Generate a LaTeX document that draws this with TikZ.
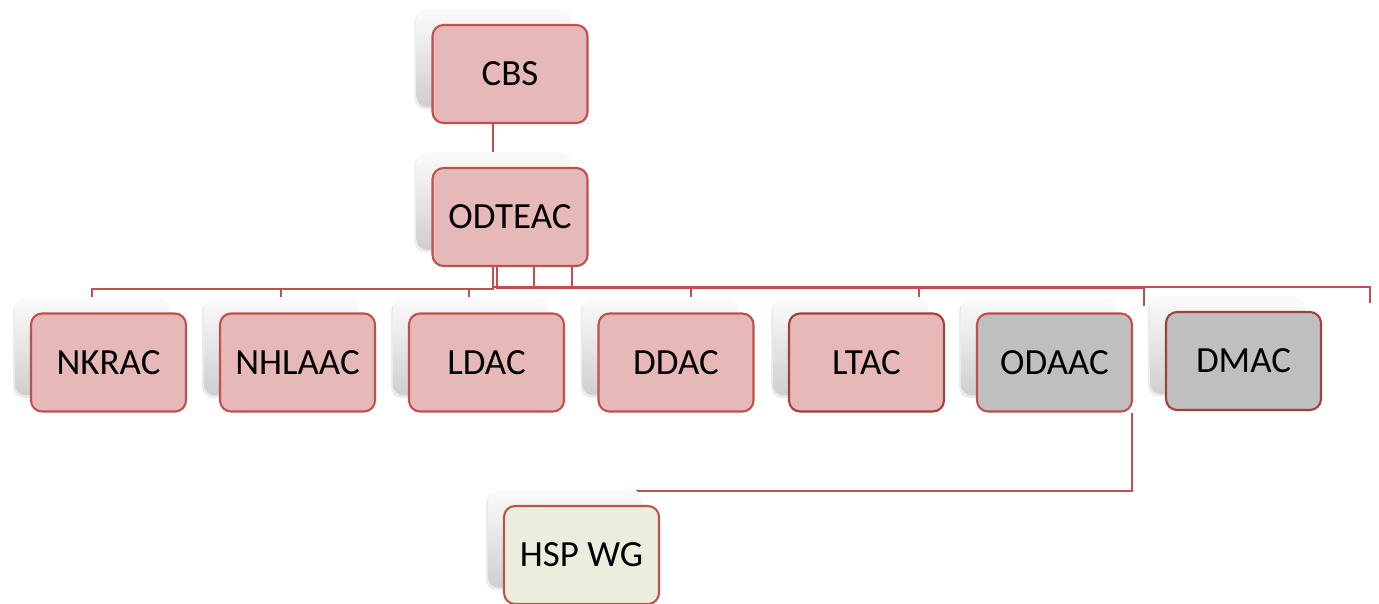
\documentclass[tikz,border=0pt]{standalone}
\usepackage{fontspec}
\setmainfont{Carlito}
\usetikzlibrary{shadows,backgrounds}

\definecolor{acred}{HTML}{C0504D}
\definecolor{acdark}{HTML}{A0403D}
\definecolor{unitfill}{HTML}{E6B9B8}
\definecolor{unitgrey}{HTML}{BFBFBF}
\definecolor{wgfill}{HTML}{EAEFDD}

\tikzset{
  unit/.style={draw=acred, fill=unitfill, line width=1.2pt, rounded corners=0.22cm,
    minimum width=3.1cm, minimum height=1.96cm, inner sep=0pt,
    font=\fontsize{21}{25}\selectfont,
    general shadow={shadow xshift=-0.36cm, shadow yshift=0.27cm, draw=none, fill=black, opacity=0.08},
    general shadow={shadow xshift=-0.32cm, shadow yshift=0.32cm, draw=none,
      top color=gray!3, middle color=gray!7, bottom color=gray!38}},
  greyunit/.style={unit, fill=unitgrey},
  wgunit/.style={unit, fill=wgfill},
  link/.style={draw=acred, line width=1.2pt},
}

\begin{document}
\begin{tikzpicture}[x=0.02cm, y=-0.02cm]
\useasboundingbox (0,0) rectangle (1379,604);

\node[unit] (cbs) at (510,74) {CBS};
\node[unit] (odteac) at (510,217) {ODTEAC};

\node[unit] (nkrac) at (108.5,362.5) {NKRAC};
\node[unit] (nhlaac) at (297.5,362.5) {NHLAAC};
\node[unit] (ldac) at (486.5,362.5) {LDAC};
\node[unit] (ddac) at (676,362.5) {DDAC};
\node[unit, draw=acdark] (ltac) at (866.5,362.5) {LTAC};
\node[greyunit] (odaac) at (1054.5,362.5) {ODAAC};
\node[greyunit, draw=acdark] (dmac) at (1243.5,361) {DMAC};

\node[wgunit] (hsp) at (581.5,555) {HSP WG};

% where the lines meet the boxes behind
\coordinate (odteac-in) at (493,152);
\coordinate (nkrac-in) at (92,297);
\coordinate (nhlaac-in) at (281,297);
\coordinate (ldac-in) at (469,297);
\coordinate (ddac-in) at (691,297);
\coordinate (ltac-in) at (919,297);
\coordinate (odaac-in) at (1144,306);
\coordinate (dmac-in) at (1370,303);
\coordinate (hsp-in) at (636,491);

\begin{scope}[on background layer]
\draw[link] (cbs.south -| odteac-in) -- (odteac-in);

\draw[link] ([xshift=-0.34cm]odteac.south) |- ([yshift=0.16cm]nkrac-in) -- (nkrac-in);
\draw[link] ([xshift=-0.34cm]odteac.south) |- ([yshift=0.16cm]nhlaac-in) -- (nhlaac-in);
\draw[link] ([xshift=-0.34cm]odteac.south) |- ([yshift=0.16cm]ldac-in) -- (ldac-in);
\draw[link] ([xshift=-0.26cm]odteac.south) |- ([yshift=0.18cm]ddac-in) -- (ddac-in);
\draw[link] ([xshift=0.48cm]odteac.south) |- ([yshift=0.18cm]ltac-in) -- (ltac-in);
\draw[link] ([xshift=1.24cm]odteac.south) |- ([yshift=0.36cm]odaac-in) -- (odaac-in);
\draw[link] ([xshift=-0.34cm]odteac.south) |- ([yshift=0.32cm]dmac-in) -- (dmac-in);

\draw[link] ([xshift=-0.02cm]odaac.south east) |- (hsp-in);
\end{scope}
\end{tikzpicture}
\end{document}
